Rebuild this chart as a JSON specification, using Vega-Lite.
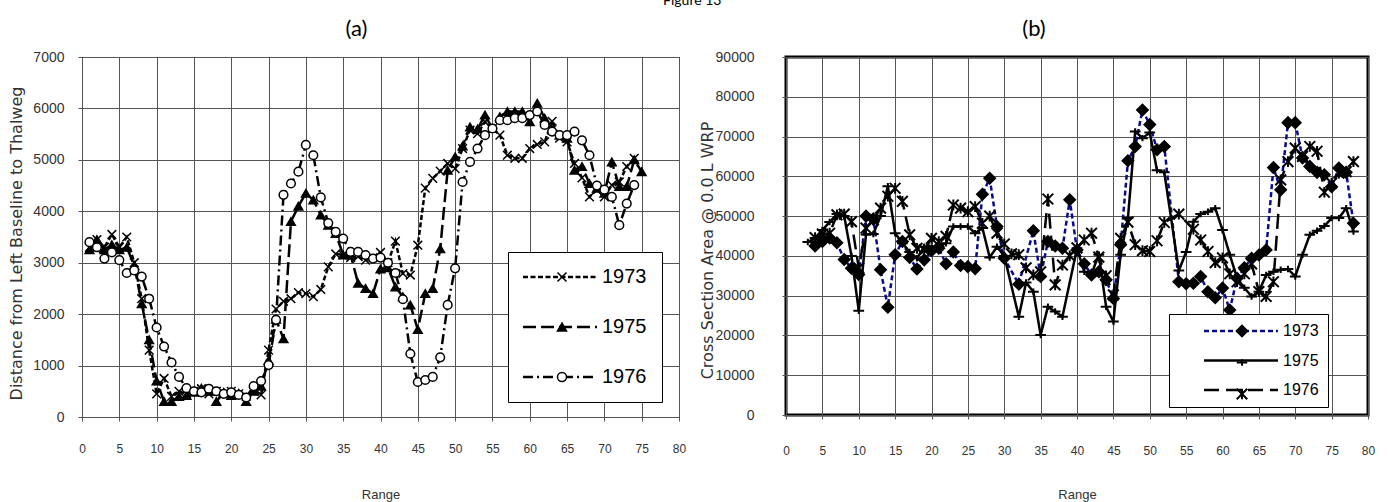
{
"$schema": "https://vega.github.io/schema/vega-lite/v6.json",
"background": "white",
"padding": {"left": 8, "top": -7, "right": 5, "bottom": 2},
"title": {"text": "Figure 13", "fontSize": 14, "font": "Lato", "fontWeight": "normal", "color": "black", "offset": 9, "anchor": "middle"},
"spacing": 10,
"resolve": {"scale": {"color": "independent", "shape": "independent", "strokeDash": "independent", "fill": "independent"}, "legend": {"color": "independent", "shape": "independent", "strokeDash": "independent", "fill": "independent"}},
"datasets": {
"a": [
{"r":1,"v":3300,"s":"1973"},{"r":2,"v":3450,"s":"1973"},{"r":3,"v":3300,"s":"1973"},{"r":4,"v":3550,"s":"1973"},{"r":5,"v":3300,"s":"1973"},{"r":6,"v":3500,"s":"1973"},{"r":7,"v":3000,"s":"1973"},{"r":8,"v":2300,"s":"1973"},{"r":9,"v":1300,"s":"1973"},{"r":10,"v":450,"s":"1973"},{"r":11,"v":750,"s":"1973"},{"r":12,"v":400,"s":"1973"},{"r":13,"v":500,"s":"1973"},{"r":14,"v":450,"s":"1973"},{"r":15,"v":500,"s":"1973"},{"r":16,"v":550,"s":"1973"},{"r":17,"v":450,"s":"1973"},{"r":18,"v":500,"s":"1973"},{"r":19,"v":450,"s":"1973"},{"r":20,"v":500,"s":"1973"},{"r":21,"v":450,"s":"1973"},{"r":22,"v":400,"s":"1973"},{"r":23,"v":500,"s":"1973"},{"r":24,"v":430,"s":"1973"},{"r":25,"v":1300,"s":"1973"},{"r":26,"v":2100,"s":"1973"},{"r":27,"v":2250,"s":"1973"},{"r":28,"v":2300,"s":"1973"},{"r":29,"v":2420,"s":"1973"},{"r":30,"v":2400,"s":"1973"},{"r":31,"v":2340,"s":"1973"},{"r":32,"v":2480,"s":"1973"},{"r":33,"v":2920,"s":"1973"},{"r":34,"v":3170,"s":"1973"},{"r":35,"v":3150,"s":"1973"},{"r":36,"v":3100,"s":"1973"},{"r":37,"v":3120,"s":"1973"},{"r":38,"v":3050,"s":"1973"},{"r":39,"v":3100,"s":"1973"},{"r":40,"v":3200,"s":"1973"},{"r":41,"v":3000,"s":"1973"},{"r":42,"v":3420,"s":"1973"},{"r":43,"v":2790,"s":"1973"},{"r":44,"v":2760,"s":"1973"},{"r":45,"v":3340,"s":"1973"},{"r":46,"v":4450,"s":"1973"},{"r":47,"v":4640,"s":"1973"},{"r":48,"v":4780,"s":"1973"},{"r":49,"v":4930,"s":"1973"},{"r":50,"v":4830,"s":"1973"},{"r":51,"v":5220,"s":"1973"},{"r":52,"v":5580,"s":"1973"},{"r":53,"v":5510,"s":"1973"},{"r":54,"v":5740,"s":"1973"},{"r":55,"v":5610,"s":"1973"},{"r":56,"v":5480,"s":"1973"},{"r":57,"v":5090,"s":"1973"},{"r":58,"v":5030,"s":"1973"},{"r":59,"v":5030,"s":"1973"},{"r":60,"v":5220,"s":"1973"},{"r":61,"v":5300,"s":"1973"},{"r":62,"v":5350,"s":"1973"},{"r":63,"v":5750,"s":"1973"},{"r":64,"v":5420,"s":"1973"},{"r":65,"v":5350,"s":"1973"},{"r":66,"v":4930,"s":"1973"},{"r":67,"v":4650,"s":"1973"},{"r":68,"v":4280,"s":"1973"},{"r":69,"v":4420,"s":"1973"},{"r":70,"v":4280,"s":"1973"},{"r":71,"v":4510,"s":"1973"},{"r":72,"v":4570,"s":"1973"},{"r":73,"v":4870,"s":"1973"},{"r":74,"v":5030,"s":"1973"},
{"r":1,"v":3250,"s":"1975"},{"r":2,"v":3450,"s":"1975"},{"r":3,"v":3250,"s":"1975"},{"r":4,"v":3350,"s":"1975"},{"r":5,"v":3250,"s":"1975"},{"r":6,"v":3300,"s":"1975"},{"r":7,"v":2950,"s":"1975"},{"r":8,"v":2200,"s":"1975"},{"r":9,"v":1500,"s":"1975"},{"r":10,"v":700,"s":"1975"},{"r":11,"v":300,"s":"1975"},{"r":12,"v":300,"s":"1975"},{"r":13,"v":400,"s":"1975"},{"r":14,"v":420,"s":"1975"},{"r":15,"v":480,"s":"1975"},{"r":16,"v":560,"s":"1975"},{"r":17,"v":500,"s":"1975"},{"r":18,"v":300,"s":"1975"},{"r":19,"v":480,"s":"1975"},{"r":20,"v":420,"s":"1975"},{"r":21,"v":460,"s":"1975"},{"r":22,"v":300,"s":"1975"},{"r":23,"v":500,"s":"1975"},{"r":24,"v":600,"s":"1975"},{"r":25,"v":1100,"s":"1975"},{"r":26,"v":1900,"s":"1975"},{"r":27,"v":1520,"s":"1975"},{"r":28,"v":3800,"s":"1975"},{"r":29,"v":4100,"s":"1975"},{"r":30,"v":4350,"s":"1975"},{"r":31,"v":4220,"s":"1975"},{"r":32,"v":3930,"s":"1975"},{"r":33,"v":3730,"s":"1975"},{"r":34,"v":3570,"s":"1975"},{"r":35,"v":3150,"s":"1975"},{"r":36,"v":3150,"s":"1975"},{"r":37,"v":2600,"s":"1975"},{"r":38,"v":2500,"s":"1975"},{"r":39,"v":2400,"s":"1975"},{"r":40,"v":2880,"s":"1975"},{"r":41,"v":2900,"s":"1975"},{"r":42,"v":2530,"s":"1975"},{"r":43,"v":2340,"s":"1975"},{"r":44,"v":2180,"s":"1975"},{"r":45,"v":1700,"s":"1975"},{"r":46,"v":2400,"s":"1975"},{"r":47,"v":2500,"s":"1975"},{"r":48,"v":3270,"s":"1975"},{"r":49,"v":4800,"s":"1975"},{"r":50,"v":5060,"s":"1975"},{"r":51,"v":5270,"s":"1975"},{"r":52,"v":5640,"s":"1975"},{"r":53,"v":5600,"s":"1975"},{"r":54,"v":5870,"s":"1975"},{"r":55,"v":5610,"s":"1975"},{"r":56,"v":5840,"s":"1975"},{"r":57,"v":5940,"s":"1975"},{"r":58,"v":5940,"s":"1975"},{"r":59,"v":5940,"s":"1975"},{"r":60,"v":5740,"s":"1975"},{"r":61,"v":6100,"s":"1975"},{"r":62,"v":5810,"s":"1975"},{"r":63,"v":5580,"s":"1975"},{"r":64,"v":5480,"s":"1975"},{"r":65,"v":5420,"s":"1975"},{"r":66,"v":4800,"s":"1975"},{"r":67,"v":4870,"s":"1975"},{"r":68,"v":4540,"s":"1975"},{"r":69,"v":4450,"s":"1975"},{"r":70,"v":4350,"s":"1975"},{"r":71,"v":4960,"s":"1975"},{"r":72,"v":4480,"s":"1975"},{"r":73,"v":4480,"s":"1975"},{"r":74,"v":5000,"s":"1975"},{"r":75,"v":4770,"s":"1975"},
{"r":1,"v":3400,"s":"1976"},{"r":2,"v":3300,"s":"1976"},{"r":3,"v":3080,"s":"1976"},{"r":4,"v":3200,"s":"1976"},{"r":5,"v":3050,"s":"1976"},{"r":6,"v":2800,"s":"1976"},{"r":7,"v":2850,"s":"1976"},{"r":8,"v":2730,"s":"1976"},{"r":9,"v":2300,"s":"1976"},{"r":10,"v":1740,"s":"1976"},{"r":11,"v":1370,"s":"1976"},{"r":12,"v":1060,"s":"1976"},{"r":13,"v":780,"s":"1976"},{"r":14,"v":560,"s":"1976"},{"r":15,"v":500,"s":"1976"},{"r":16,"v":480,"s":"1976"},{"r":17,"v":550,"s":"1976"},{"r":18,"v":500,"s":"1976"},{"r":19,"v":450,"s":"1976"},{"r":20,"v":480,"s":"1976"},{"r":21,"v":430,"s":"1976"},{"r":22,"v":380,"s":"1976"},{"r":23,"v":600,"s":"1976"},{"r":24,"v":700,"s":"1976"},{"r":25,"v":1010,"s":"1976"},{"r":26,"v":1890,"s":"1976"},{"r":27,"v":4320,"s":"1976"},{"r":28,"v":4540,"s":"1976"},{"r":29,"v":4770,"s":"1976"},{"r":30,"v":5290,"s":"1976"},{"r":31,"v":5090,"s":"1976"},{"r":32,"v":4270,"s":"1976"},{"r":33,"v":3770,"s":"1976"},{"r":34,"v":3600,"s":"1976"},{"r":35,"v":3470,"s":"1976"},{"r":36,"v":3210,"s":"1976"},{"r":37,"v":3210,"s":"1976"},{"r":38,"v":3150,"s":"1976"},{"r":39,"v":3080,"s":"1976"},{"r":40,"v":3100,"s":"1976"},{"r":41,"v":3000,"s":"1976"},{"r":42,"v":2800,"s":"1976"},{"r":43,"v":2290,"s":"1976"},{"r":44,"v":1230,"s":"1976"},{"r":45,"v":680,"s":"1976"},{"r":46,"v":720,"s":"1976"},{"r":47,"v":780,"s":"1976"},{"r":48,"v":1160,"s":"1976"},{"r":49,"v":2180,"s":"1976"},{"r":50,"v":2890,"s":"1976"},{"r":51,"v":4570,"s":"1976"},{"r":52,"v":4960,"s":"1976"},{"r":53,"v":5220,"s":"1976"},{"r":54,"v":5480,"s":"1976"},{"r":55,"v":5610,"s":"1976"},{"r":56,"v":5770,"s":"1976"},{"r":57,"v":5770,"s":"1976"},{"r":58,"v":5810,"s":"1976"},{"r":59,"v":5810,"s":"1976"},{"r":60,"v":5870,"s":"1976"},{"r":61,"v":5940,"s":"1976"},{"r":62,"v":5680,"s":"1976"},{"r":63,"v":5550,"s":"1976"},{"r":64,"v":5480,"s":"1976"},{"r":65,"v":5480,"s":"1976"},{"r":66,"v":5550,"s":"1976"},{"r":67,"v":5380,"s":"1976"},{"r":68,"v":5090,"s":"1976"},{"r":69,"v":4500,"s":"1976"},{"r":70,"v":4420,"s":"1976"},{"r":71,"v":4280,"s":"1976"},{"r":72,"v":3730,"s":"1976"},{"r":73,"v":4150,"s":"1976"},{"r":74,"v":4510,"s":"1976"}
],
"b": [
{"r":4,"v":42500,"s":"1973"},{"r":5,"v":43600,"s":"1973"},{"r":6,"v":44500,"s":"1973"},{"r":7,"v":43300,"s":"1973"},{"r":8,"v":39100,"s":"1973"},{"r":9,"v":36900,"s":"1973"},{"r":10,"v":35300,"s":"1973"},{"r":11,"v":50000,"s":"1973"},{"r":12,"v":49300,"s":"1973"},{"r":13,"v":36500,"s":"1973"},{"r":14,"v":27100,"s":"1973"},{"r":15,"v":40300,"s":"1973"},{"r":16,"v":43600,"s":"1973"},{"r":17,"v":39600,"s":"1973"},{"r":18,"v":36700,"s":"1973"},{"r":19,"v":39000,"s":"1973"},{"r":20,"v":41300,"s":"1973"},{"r":21,"v":41900,"s":"1973"},{"r":22,"v":38000,"s":"1973"},{"r":23,"v":41000,"s":"1973"},{"r":24,"v":37600,"s":"1973"},{"r":25,"v":37300,"s":"1973"},{"r":26,"v":36800,"s":"1973"},{"r":27,"v":55500,"s":"1973"},{"r":28,"v":59500,"s":"1973"},{"r":29,"v":47400,"s":"1973"},{"r":30,"v":39400,"s":"1973"},{"r":32,"v":32900,"s":"1973"},{"r":34,"v":46300,"s":"1973"},{"r":35,"v":34800,"s":"1973"},{"r":36,"v":43600,"s":"1973"},{"r":37,"v":42500,"s":"1973"},{"r":38,"v":41900,"s":"1973"},{"r":39,"v":54100,"s":"1973"},{"r":40,"v":41500,"s":"1973"},{"r":41,"v":38000,"s":"1973"},{"r":42,"v":35200,"s":"1973"},{"r":43,"v":36000,"s":"1973"},{"r":44,"v":34000,"s":"1973"},{"r":45,"v":29300,"s":"1973"},{"r":46,"v":42800,"s":"1973"},{"r":47,"v":63900,"s":"1973"},{"r":48,"v":67500,"s":"1973"},{"r":49,"v":76700,"s":"1973"},{"r":50,"v":73000,"s":"1973"},{"r":51,"v":66700,"s":"1973"},{"r":52,"v":67500,"s":"1973"},{"r":54,"v":33500,"s":"1973"},{"r":55,"v":33000,"s":"1973"},{"r":56,"v":33100,"s":"1973"},{"r":57,"v":34800,"s":"1973"},{"r":58,"v":31000,"s":"1973"},{"r":59,"v":29500,"s":"1973"},{"r":60,"v":31900,"s":"1973"},{"r":61,"v":26400,"s":"1973"},{"r":62,"v":34400,"s":"1973"},{"r":63,"v":37000,"s":"1973"},{"r":64,"v":39400,"s":"1973"},{"r":65,"v":40200,"s":"1973"},{"r":66,"v":41500,"s":"1973"},{"r":67,"v":62200,"s":"1973"},{"r":68,"v":56600,"s":"1973"},{"r":69,"v":73500,"s":"1973"},{"r":70,"v":73500,"s":"1973"},{"r":71,"v":64600,"s":"1973"},{"r":72,"v":62500,"s":"1973"},{"r":73,"v":61000,"s":"1973"},{"r":74,"v":60400,"s":"1973"},{"r":75,"v":57400,"s":"1973"},{"r":76,"v":62100,"s":"1973"},{"r":77,"v":61000,"s":"1973"},{"r":78,"v":48200,"s":"1973"},
{"r":3,"v":43500,"s":"1975"},{"r":4,"v":44500,"s":"1975"},{"r":5,"v":46500,"s":"1975"},{"r":6,"v":48500,"s":"1975"},{"r":7,"v":50500,"s":"1975"},{"r":8,"v":50000,"s":"1975"},{"r":9,"v":40000,"s":"1975"},{"r":10,"v":26200,"s":"1975"},{"r":11,"v":45400,"s":"1975"},{"r":12,"v":45500,"s":"1975"},{"r":13,"v":50000,"s":"1975"},{"r":14,"v":57500,"s":"1975"},{"r":15,"v":45700,"s":"1975"},{"r":16,"v":43200,"s":"1975"},{"r":17,"v":41000,"s":"1975"},{"r":18,"v":39400,"s":"1975"},{"r":19,"v":42300,"s":"1975"},{"r":20,"v":42000,"s":"1975"},{"r":21,"v":42500,"s":"1975"},{"r":22,"v":43200,"s":"1975"},{"r":23,"v":47400,"s":"1975"},{"r":24,"v":47400,"s":"1975"},{"r":25,"v":47400,"s":"1975"},{"r":26,"v":45700,"s":"1975"},{"r":27,"v":47000,"s":"1975"},{"r":28,"v":39600,"s":"1975"},{"r":29,"v":42300,"s":"1975"},{"r":30,"v":40000,"s":"1975"},{"r":32,"v":24700,"s":"1975"},{"r":33,"v":33300,"s":"1975"},{"r":34,"v":31000,"s":"1975"},{"r":35,"v":20100,"s":"1975"},{"r":36,"v":27200,"s":"1975"},{"r":37,"v":26000,"s":"1975"},{"r":38,"v":24700,"s":"1975"},{"r":40,"v":41900,"s":"1975"},{"r":41,"v":36000,"s":"1975"},{"r":42,"v":35500,"s":"1975"},{"r":43,"v":40300,"s":"1975"},{"r":44,"v":27200,"s":"1975"},{"r":45,"v":23500,"s":"1975"},{"r":46,"v":40300,"s":"1975"},{"r":47,"v":49500,"s":"1975"},{"r":48,"v":71300,"s":"1975"},{"r":49,"v":69600,"s":"1975"},{"r":50,"v":71000,"s":"1975"},{"r":51,"v":61500,"s":"1975"},{"r":52,"v":61000,"s":"1975"},{"r":54,"v":36300,"s":"1975"},{"r":55,"v":41000,"s":"1975"},{"r":56,"v":48600,"s":"1975"},{"r":57,"v":50500,"s":"1975"},{"r":58,"v":51100,"s":"1975"},{"r":59,"v":52000,"s":"1975"},{"r":60,"v":46500,"s":"1975"},{"r":61,"v":40300,"s":"1975"},{"r":62,"v":34400,"s":"1975"},{"r":63,"v":32000,"s":"1975"},{"r":64,"v":29800,"s":"1975"},{"r":65,"v":31000,"s":"1975"},{"r":66,"v":35200,"s":"1975"},{"r":67,"v":36000,"s":"1975"},{"r":68,"v":36500,"s":"1975"},{"r":69,"v":36700,"s":"1975"},{"r":70,"v":34800,"s":"1975"},{"r":71,"v":40300,"s":"1975"},{"r":72,"v":45300,"s":"1975"},{"r":73,"v":46300,"s":"1975"},{"r":74,"v":47500,"s":"1975"},{"r":75,"v":49500,"s":"1975"},{"r":76,"v":49500,"s":"1975"},{"r":77,"v":52000,"s":"1975"},{"r":78,"v":46100,"s":"1975"},
{"r":4,"v":44600,"s":"1976"},{"r":5,"v":45500,"s":"1976"},{"r":6,"v":45700,"s":"1976"},{"r":7,"v":50300,"s":"1976"},{"r":8,"v":50500,"s":"1976"},{"r":9,"v":48600,"s":"1976"},{"r":10,"v":37000,"s":"1976"},{"r":11,"v":47000,"s":"1976"},{"r":12,"v":49000,"s":"1976"},{"r":13,"v":52000,"s":"1976"},{"r":14,"v":55000,"s":"1976"},{"r":15,"v":57000,"s":"1976"},{"r":16,"v":53700,"s":"1976"},{"r":17,"v":45300,"s":"1976"},{"r":18,"v":41900,"s":"1976"},{"r":19,"v":41500,"s":"1976"},{"r":20,"v":44400,"s":"1976"},{"r":21,"v":43600,"s":"1976"},{"r":22,"v":44900,"s":"1976"},{"r":23,"v":52800,"s":"1976"},{"r":24,"v":52000,"s":"1976"},{"r":25,"v":51100,"s":"1976"},{"r":26,"v":52400,"s":"1976"},{"r":27,"v":48200,"s":"1976"},{"r":28,"v":50000,"s":"1976"},{"r":29,"v":45700,"s":"1976"},{"r":30,"v":43000,"s":"1976"},{"r":31,"v":40500,"s":"1976"},{"r":32,"v":40300,"s":"1976"},{"r":33,"v":37000,"s":"1976"},{"r":34,"v":35200,"s":"1976"},{"r":35,"v":36000,"s":"1976"},{"r":36,"v":54300,"s":"1976"},{"r":37,"v":32700,"s":"1976"},{"r":38,"v":37700,"s":"1976"},{"r":39,"v":40000,"s":"1976"},{"r":40,"v":42000,"s":"1976"},{"r":41,"v":44000,"s":"1976"},{"r":42,"v":45700,"s":"1976"},{"r":43,"v":39700,"s":"1976"},{"r":44,"v":35000,"s":"1976"},{"r":45,"v":30200,"s":"1976"},{"r":46,"v":44400,"s":"1976"},{"r":47,"v":48500,"s":"1976"},{"r":48,"v":42800,"s":"1976"},{"r":49,"v":41300,"s":"1976"},{"r":50,"v":41100,"s":"1976"},{"r":51,"v":43800,"s":"1976"},{"r":52,"v":48400,"s":"1976"},{"r":54,"v":50500,"s":"1976"},{"r":56,"v":46700,"s":"1976"},{"r":57,"v":44000,"s":"1976"},{"r":58,"v":41100,"s":"1976"},{"r":59,"v":38300,"s":"1976"},{"r":60,"v":39500,"s":"1976"},{"r":61,"v":35500,"s":"1976"},{"r":62,"v":33500,"s":"1976"},{"r":63,"v":35500,"s":"1976"},{"r":64,"v":38000,"s":"1976"},{"r":65,"v":31000,"s":"1976"},{"r":66,"v":29800,"s":"1976"},{"r":67,"v":33500,"s":"1976"},{"r":68,"v":59100,"s":"1976"},{"r":69,"v":63700,"s":"1976"},{"r":70,"v":67100,"s":"1976"},{"r":71,"v":65000,"s":"1976"},{"r":72,"v":67500,"s":"1976"},{"r":73,"v":66300,"s":"1976"},{"r":74,"v":56000,"s":"1976"},{"r":75,"v":58300,"s":"1976"},{"r":76,"v":60800,"s":"1976"},{"r":77,"v":61200,"s":"1976"},{"r":78,"v":63700,"s":"1976"}
]
},
"hconcat": [
{
"width": 597, "height": 360,
"title": {"text": "(a)", "dx": -24},
"data": {"name": "a"},
"view": {"stroke": "black", "strokeWidth": 1},
"encoding": {
"x": {"field": "r", "type": "quantitative", "scale": {"domain": [0, 80], "nice": false}, "axis": {"values": [0,5,10,15,20,25,30,35,40,45,50,55,60,65,70,75,80], "title": "Range", "labelPadding": 22, "titlePadding": 34}},
"y": {"field": "v", "type": "quantitative", "scale": {"domain": [0, 7000], "nice": false}, "axis": {"values": [0,1000,2000,3000,4000,5000,6000,7000], "format": "d", "title": "Distance from Left Baseline to Thalweg", "labelFontSize": 14, "labelPadding": 14, "titlePadding": 8, "titleFont": "DejaVu Sans", "titleFontSize": 16, "titleY": 186}}
},
"layer": [
{"mark": {"type": "line", "strokeWidth": 2.5, "color": "black"},
"encoding": {"strokeDash": {"field": "s", "type": "nominal", "scale": {"range": [[5,2.5],[13,5],[10,4,2,4]]},
"legend": {"orient": "none", "legendX": 426, "legendY": 195, "zindex": 1, "title": null, "strokeColor": "black", "fillColor": "white", "padding": 15, "rowPadding": 30, "symbolType": "M-6,0L6,0", "symbolSize": 152, "symbolStrokeWidth": 2.5, "symbolStrokeColor": "black", "symbolOffset": 27, "labelFontSize": 20, "labelOffset": 32, "labelColor": "black"}}}},
{"mark": {"type": "point", "filled": true, "stroke": "black", "strokeWidth": 1.5, "opacity": 1},
"encoding": {
"shape": {"field": "s", "type": "nominal", "scale": {"domain": ["1973", "1975", "1976"], "range": ["M-1,-1L1,1M-1,1L1,-1", "triangle-up", "circle"]},
"legend": {"orient": "none", "legendX": 426, "legendY": 195, "zindex": 2, "title": null, "labelExpr": "''", "padding": 15, "rowPadding": 30, "symbolSize": 81, "symbolStrokeColor": "black", "symbolFillColor": "black", "symbolStrokeWidth": 1.5, "symbolOffset": 29, "labelFontSize": 20}},
"fill": {"field": "s", "type": "nominal", "scale": {"domain": ["1973", "1975", "1976"], "range": ["black", "black", "white"]}, "legend": null},
"size": {"value": 75}}}
]
},
{
"width": 582, "height": 358,
"title": {"text": "(b)", "dx": -43},
"data": {"name": "b"},
"view": {"stroke": "black", "strokeWidth": 3},
"encoding": {
"x": {"field": "r", "type": "quantitative", "scale": {"domain": [0, 80], "nice": false}, "axis": {"values": [0,5,10,15,20,25,30,35,40,45,50,55,60,65,70,75,80], "title": "Range", "labelPadding": 26, "titlePadding": 32}},
"y": {"field": "v", "type": "quantitative", "scale": {"domain": [0, 90000], "nice": false}, "axis": {"values": [0,10000,20000,30000,40000,50000,60000,70000,80000,90000], "format": "d", "title": "Cross Section Area @ 0.0 L WRP", "labelFontSize": 14, "labelPadding": 28, "titlePadding": 0, "titleFont": "DejaVu Sans", "titleFontSize": 16, "titleY": 193}}
},
"layer": [
{"mark": {"type": "line", "strokeWidth": 2.5},
"encoding": {
"color": {"field": "s", "type": "nominal", "scale": {"range": ["#0a0a8c", "black", "black"]}},
"strokeDash": {"field": "s", "type": "nominal", "scale": {"range": [[5,3],[1,0],[15,7]]},
"legend": {"orient": "none", "legendX": 383, "legendY": 257, "zindex": 1, "title": null, "strokeColor": "black", "fillColor": "white", "padding": 9, "rowPadding": 13.5, "symbolType": "M-6,0L6,0", "symbolSize": 152, "symbolStrokeWidth": 2.5, "symbolOffset": 55, "labelFontSize": 16, "labelOffset": 34, "labelColor": "black", "labelExpr": "datum.label + '        '"}}}},
{"mark": {"type": "point", "filled": true, "stroke": "black", "strokeWidth": 2, "opacity": 1},
"encoding": {
"shape": {"field": "s", "type": "nominal", "scale": {"domain": ["1973", "1975", "1976"], "range": ["diamond", "M-1,0L1,0M0,-0.6L0,0.6", "M-1,-1L1,1M-1,1L1,-1M0,-1L0,1"]},
"legend": {"orient": "none", "legendX": 383, "legendY": 257, "zindex": 2, "title": null, "labelExpr": "''", "padding": 9, "rowPadding": 13.5, "symbolSize": 110, "symbolStrokeColor": "black", "symbolFillColor": "black", "symbolStrokeWidth": 2, "symbolOffset": 56, "labelFontSize": 16}},
"fill": {"field": "s", "type": "nominal", "scale": {"domain": ["1973", "1975", "1976"], "range": ["black", "black", "black"]}, "legend": null},
"size": {"value": 115}}}
]
}
],
"config": {
"font": "Liberation Sans",
"title": {"font": "Lato", "fontSize": 22, "fontWeight": "normal", "color": "black", "offset": 9},
"axis": {"grid": true, "gridColor": "#555", "gridWidth": 1, "gridOpacity": 1, "tickColor": "#555", "tickSize": 4, "domain": false, "labelFont": "Liberation Sans", "labelFontSize": 12, "labelColor": "#333", "titleFont": "Liberation Sans", "titleFontWeight": "normal", "titleColor": "#333", "titleFontSize": 13, "labelFlush": false, "labelAngle": 0},
"legend": {"labelFont": "Liberation Sans"}
}
}
